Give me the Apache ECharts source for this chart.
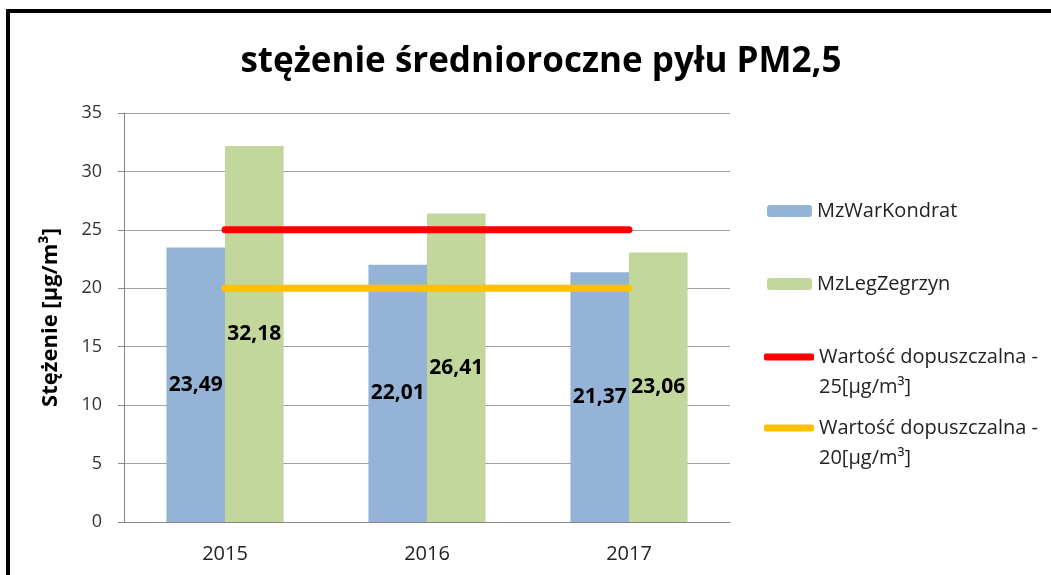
<!DOCTYPE html>
<html>
<head>
<meta charset="utf-8">
<script src="https://cdn.jsdelivr.net/npm/echarts@6/dist/echarts.min.js"></script>
<style>
  html, body { margin: 0; padding: 0; background: #fff; }
  #chart { width: 1051px; height: 575px; }
  /* ramka wykresu (lewa i górna krawędź) */
  #frame {
    position: absolute; left: 6px; top: 9px; width: 1100px; height: 700px;
    border-left: 4px solid #000; border-top: 4px solid #000; pointer-events: none;
  }
</style>
</head>
<body>
<div id="chart"></div>
<div id="frame"></div>
<script>
// dane
const years = ['2015', '2016', '2017']
const mzWarKondrat = [23.49, 22.01, 21.37]
const mzLegZegrzyn = [32.18, 26.41, 23.06]
const limit25 = [25, 25, 25]
const limit20 = [20, 20, 20]

const font = 'Open Sans'
const legendText = { fontFamily: font, fontSize: 20, color: '#222', lineHeight: 30 }
// pusta linia na początku -> pierwszy wiersz opisu na wysokości ikony
const twoLines = (name) => ' \n' + name

const fmt = (p) => p.value.toFixed(2).replace('.', ',')
const barLabel = { show: true, position: 'inside', formatter: fmt, fontFamily: font, fontSize: 21, fontWeight: 'bold', color: '#000' }

const chart = echarts.init(document.getElementById('chart'))
chart.setOption({
  animation: false,
  title: {
    text: 'stężenie średnioroczne pyłu PM2,5',
    left: 536,
    textAlign: 'center',
    top: 40,
    textStyle: { fontFamily: font, fontSize: 35, fontWeight: 'bold', color: '#000' }
  },
  grid: { left: 124, top: 113, right: 321, bottom: 53 },
  legend: [
    { data: ['MzWarKondrat'], left: 767, top: 196, padding: 0, itemWidth: 45, itemHeight: 12, textStyle: legendText },
    { data: ['MzLegZegrzyn'], left: 767, top: 269, padding: 0, itemWidth: 45, itemHeight: 12, textStyle: legendText },
    {
      data: [{ name: 'Wartość dopuszczalna -\n25[µg/m³]', icon: 'roundRect' }],
      left: 764, top: 312, padding: 0, itemWidth: 50, itemHeight: 7, itemGap: 0,
      formatter: twoLines, textStyle: legendText
    },
    {
      data: [{ name: 'Wartość dopuszczalna -\n20[µg/m³]', icon: 'roundRect' }],
      left: 764, top: 383, padding: 0, itemWidth: 50, itemHeight: 7, itemGap: 0,
      formatter: twoLines, textStyle: legendText
    }
  ],
  xAxis: {
    type: 'category',
    data: years,
    axisLine: { lineStyle: { color: '#868686' } },
    axisTick: { length: 8, lineStyle: { color: '#868686' } },
    axisLabel: { fontFamily: font, fontSize: 20, color: '#222', margin: 22 }
  },
  yAxis: {
    type: 'value',
    min: 0,
    max: 35,
    interval: 5,
    name: 'Stężenie [µg/m³]',
    nameLocation: 'middle',
    nameGap: 62,
    nameTextStyle: { fontFamily: font, fontSize: 22, fontWeight: 'bold', color: '#000' },
    axisLine: { show: true, lineStyle: { color: '#868686' } },
    axisTick: { show: true, length: 6, lineStyle: { color: '#868686' } },
    axisLabel: { fontFamily: font, fontSize: 18, color: '#333', margin: 22 },
    splitLine: { lineStyle: { color: '#a0a0a0' } }
  },
  series: [
    {
      name: 'MzWarKondrat',
      type: 'bar',
      data: mzWarKondrat,
      barGap: '0%',
      barCategoryGap: '42%',
      itemStyle: { color: '#95b3d7' },
      label: barLabel
    },
    {
      name: 'MzLegZegrzyn',
      type: 'bar',
      data: mzLegZegrzyn,
      itemStyle: { color: '#c3d69b' },
      label: barLabel
    },
    {
      name: 'Wartość dopuszczalna -\n25[µg/m³]',
      type: 'line',
      data: limit25,
      symbol: 'none',
      lineStyle: { color: '#ff0000', width: 7, cap: 'round' },
      itemStyle: { color: '#ff0000' }
    },
    {
      name: 'Wartość dopuszczalna -\n20[µg/m³]',
      type: 'line',
      data: limit20,
      symbol: 'none',
      lineStyle: { color: '#ffc000', width: 7, cap: 'round' },
      itemStyle: { color: '#ffc000' }
    }
  ]
})
</script>
</body>
</html>
